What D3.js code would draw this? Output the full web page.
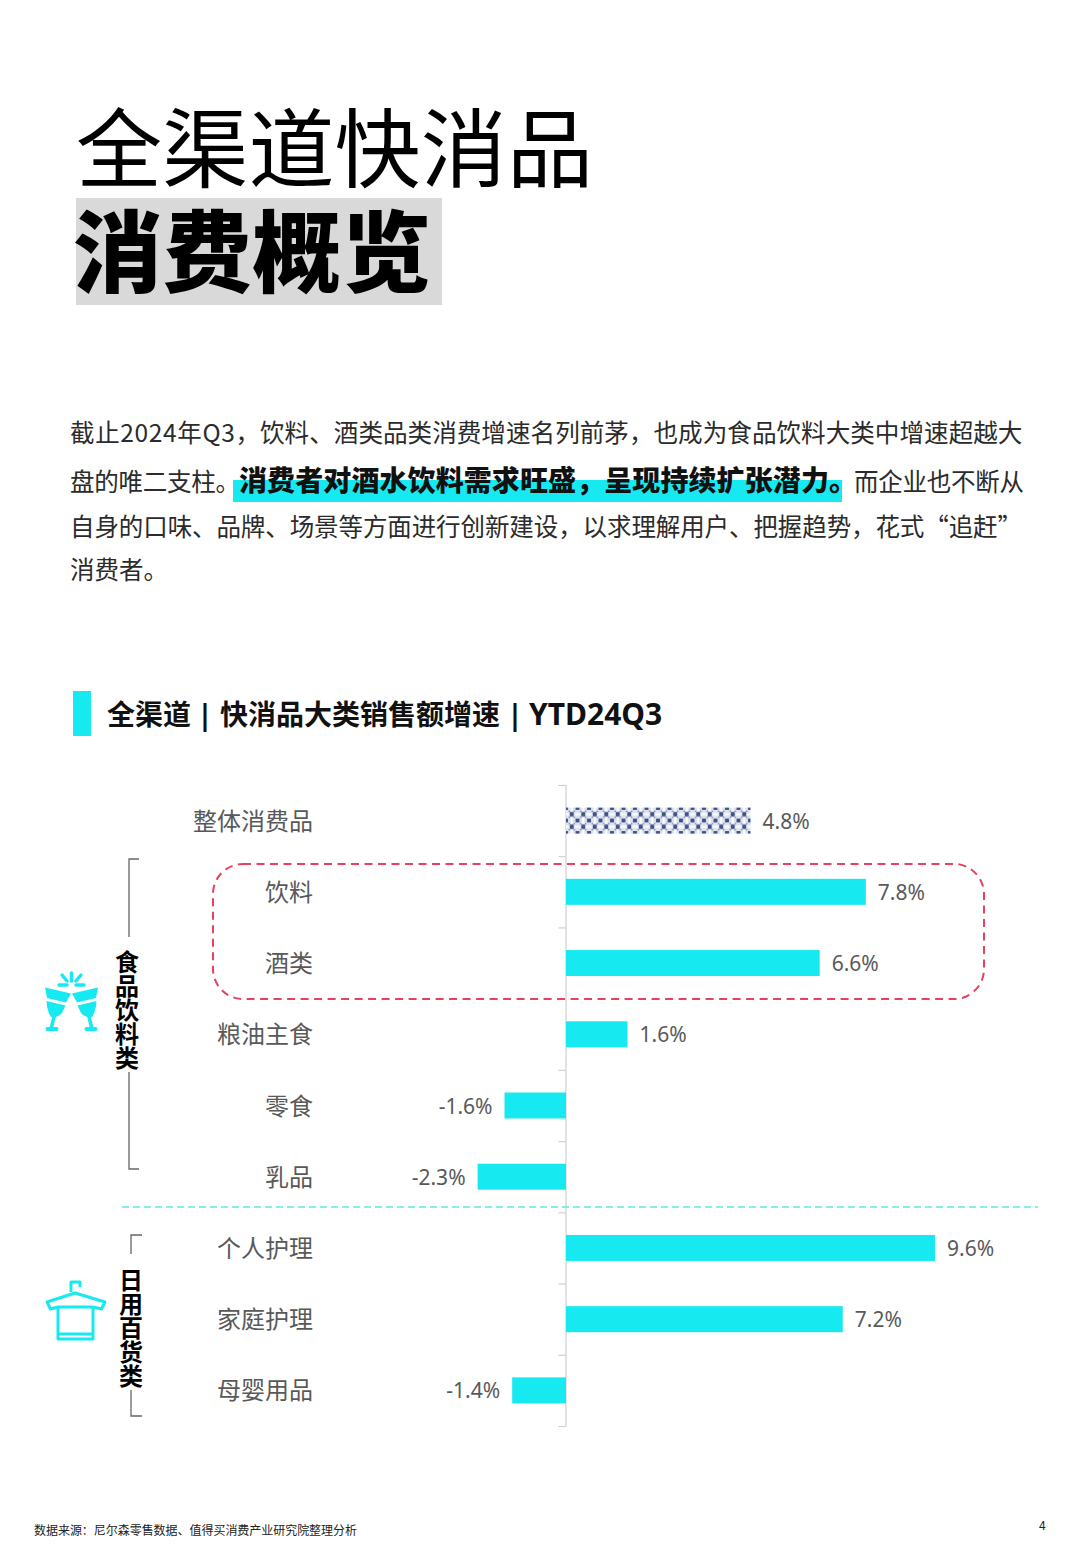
<!DOCTYPE html>
<html>
<head>
<meta charset="utf-8">
<script src="https://cdn.jsdelivr.net/npm/d3@7"></script>
<style>
	html,body { margin:0; padding:0; background:#fff; }
	svg { display:block; }
	text { font-family:"Noto Sans CJK SC","Noto Sans",sans-serif; }
</style>
</head>
<body>
<div id="chart"></div>
<script>
//--- data ---------------------------------------------------------------------

var categories	= ['整体消费品','饮料','酒类','粮油主食','零食','乳品','个人护理','家庭护理','母婴用品'];
var growth		= [4.8,7.8,6.6,1.6,-1.6,-2.3,9.6,7.2,-1.4];
var titleLine1	= '全渠道快消品';
var titleLine2	= '消费概览';
var heading		= ['全渠道','快消品大类销售额增速','YTD24Q3'];
var groupFood	= '食品饮料类';
var groupDaily	= '日用百货类';
var source		= '数据来源：尼尔森零售数据、值得买消费产业研究院整理分析';
var pageNo		= '4';

var para1a = '截止2024年Q3，';
var para1b = '饮料、酒类品类消费增速名列前茅，也成为食品饮料大类中增速超越大';
var para2a = '盘的唯二支柱。';
var para2b = '消费者对酒水饮料需求旺盛，呈现持续扩张潜力。';
var para2c = '而企业也不断从';
var para3  = '自身的口味、品牌、场景等方面进行创新建设，以求理解用户、把握趋势，花式“追赶”';
var para4  = '消费者。';

//--- page ---------------------------------------------------------------------

var CYAN = '#17e9f0', GREY = '#595959', BODY = '#2b2b2b';
var svg = d3.select('#chart').append('svg').attr('width',1080).attr('height',1560);

// text helper, fits to a measured width if given
function txt(x,y,s,size,opts) {
	opts = opts || {};
	var t = svg.append('text').attr('x',x).attr('y',y).text(s)
		.attr('font-size',size)
		.attr('font-weight',opts.weight||400)
		.attr('fill',opts.fill||'#000')
		.attr('text-anchor',opts.anchor||'start');
	if (opts.len) t.attr('textLength',opts.len).attr('lengthAdjust','spacing');
	if (opts.font) t.style('font-family',opts.font);
	return t;
}

// title
svg.append('rect').attr('x',76).attr('y',198).attr('width',366).attr('height',107).attr('fill','#d9d9d9');
txt(76,181,titleLine1,86,{len:517});
txt(73,285,titleLine2,89,{weight:900,len:358});

// paragraph
svg.append('rect').attr('x',233).attr('y',480).attr('width',609).attr('height',22).attr('fill',CYAN);
txt(70,442,para1a,24.5,{fill:BODY,len:190});
txt(260,442,para1b,24.6,{fill:BODY});
txt(70,491,para2a,24.5,{fill:BODY,len:170});
txt(239,491,para2b,28,{weight:900,fill:'#111',len:618});
txt(854,491,para2c,24.5,{fill:BODY,len:170});
txt(70,536,para3,24.5,{fill:BODY,len:952});
txt(70,579,para4,24.5,{fill:BODY});

// chart heading
svg.append('rect').attr('x',73).attr('y',691).attr('width',18).attr('height',45).attr('fill',CYAN);
txt(107,725,heading[0],28,{weight:700,fill:'#111'});
txt(205,725,'|',28,{weight:700,fill:'#111',anchor:'middle',font:'"Noto Sans",sans-serif'});
txt(220,725,heading[1],28,{weight:700,fill:'#111'});
txt(515,725,'|',28,{weight:700,fill:'#111',anchor:'middle',font:'"Noto Sans",sans-serif'});
txt(529,725,heading[2],30,{weight:700,fill:'#111',font:'"Noto Sans",sans-serif'});

//--- chart --------------------------------------------------------------------

var x = d3.scaleLinear().domain([0,9.6]).range([566,935]);
var y = d3.scaleBand().domain(categories).range([785,1426]);

var pat = svg.append('defs').append('pattern').attr('id','weave').attr('patternUnits','userSpaceOnUse')
	.attr('x',566).attr('y',808).attr('width',11.5).attr('height',12.5);
pat.append('rect').attr('width',11.5).attr('height',12.5).attr('fill','#dfe3ee');
pat.append('path').attr('d','M3.8,4.2H7.7V8.3H3.8ZM0,0H2V2H0ZM9.5,0H11.5V2H9.5ZM0,10.5H2V12.5H0ZM9.5,10.5H11.5V12.5H9.5Z').attr('fill','#3f5288');
pat.append('path').attr('d','M4.8,0H6.7V3H4.8ZM4.8,9.5H6.7V12.5H4.8ZM0,5.2H2.6V7.3H0ZM8.9,5.2H11.5V7.3H8.9Z').attr('fill','#fff');
pat.append('path').attr('d','M2.6,2.6H3.8V3.8H2.6ZM7.7,2.6H8.9V3.8H7.7ZM2.6,8.7H3.8V9.9H2.6ZM7.7,8.7H8.9V9.9H7.7Z').attr('fill','#5e6f9f');

// axis: ticks sit on band edges
var edges = y.domain().map(function(c) { return y(c); }).concat([y.range()[1]]);
var axis = d3.axisLeft(d3.scaleLinear().domain(y.range()).range(y.range()))
	.tickValues(edges).tickSize(7).tickFormat('');
svg.append('g').attr('transform','translate(565.5,0)').call(axis)
	.call(function(g) { g.selectAll('path,line').attr('stroke','#d0d0d0').attr('stroke-width',1.2); });

var rows = svg.append('g').selectAll('g').data(categories).join('g');
var barH = 26;

rows.append('rect')
	.attr('x',function(c,i) { return Math.min(x(0),x(growth[i])); })
	.attr('y',function(c) { return y(c)+y.bandwidth()/2-barH/2; })
	.attr('width',function(c,i) { return Math.abs(x(growth[i])-x(0)); })
	.attr('height',barH)
	.attr('fill',function(c,i) { return i==0 ? 'url(#weave)' : CYAN; });

rows.append('text')
	.attr('x',313)
	.attr('y',function(c) { return y(c)+y.bandwidth()/2+9; })
	.attr('text-anchor','end').attr('font-size',24).attr('fill',GREY)
	.text(function(c) { return c; });

rows.append('text')
	.attr('x',function(c,i) { return x(growth[i])+(growth[i]<0 ? -12 : 12); })
	.attr('y',function(c) { return y(c)+y.bandwidth()/2+8; })
	.attr('text-anchor',function(c,i) { return growth[i]<0 ? 'end' : 'start'; })
	.attr('font-size',21).attr('fill',GREY)
	.style('font-family','"Noto Sans",sans-serif')
	.text(function(c,i) { return growth[i].toFixed(1)+'%'; });

// highlight box and divider
svg.append('rect').attr('x',213).attr('y',864).attr('width',771).attr('height',135).attr('rx',30)
	.attr('fill','none').attr('stroke','#e8415f').attr('stroke-width',2).attr('stroke-dasharray','8,5.5');
svg.append('line').attr('x1',122).attr('x2',1038).attr('y1',1207).attr('y2',1207)
	.attr('stroke','#5fe8e8').attr('stroke-width',1.5).attr('stroke-dasharray','7,4');

//--- group brackets -----------------------------------------------------------

var line = d3.line();
function bracket(pts) {
	svg.append('path').attr('d',line(pts)).attr('fill','none').attr('stroke','#666').attr('stroke-width',1.3);
}
function vtext(cx,top,s) {
	txt(cx,top,s,24,{weight:700}).style('writing-mode','vertical-rl').style('glyph-orientation-vertical','0');
}
bracket([[139,859],[129,859],[129,937]]);
bracket([[129,1072],[129,1169],[139,1169]]);
vtext(127,950,groupFood);
bracket([[142,1235],[131,1235],[131,1254]]);
bracket([[131,1390],[131,1416],[142,1416]]);
vtext(131,1268,groupDaily);

//--- icons --------------------------------------------------------------------

var cheers = svg.append('g');
function glass(g) {
	g.append('path').attr('d','M45,987.5L71,993.5L66,1002.5L47,998Z').attr('fill',CYAN);
	g.append('path').attr('d','M46.5,1001L65.5,1005.5L62,1013Q58,1018 51,1017Q47,1011 46.5,1001Z').attr('fill',CYAN);
	g.append('path').attr('d','M54.5,1015L51,1029').attr('stroke',CYAN).attr('stroke-width',3.5);
	g.append('path').attr('d','M47.5,1029H56.5').attr('stroke',CYAN).attr('stroke-width',4).attr('stroke-linecap','round');
}
glass(cheers.append('g'));
glass(cheers.append('g').attr('transform','translate(143,0) scale(-1,1)'));
['M71.5,973V981','M62,975L67,981','M81,975L76,981','M59,985H67','M76,985H84'].forEach(function(d) {
	cheers.append('path').attr('d',d).attr('stroke',CYAN).attr('stroke-width',3.5).attr('stroke-linecap','round');
});

var hanger = svg.append('g').attr('fill','none').attr('stroke',CYAN).attr('stroke-width',3).attr('stroke-linejoin','round');
hanger.append('path').attr('d','M71,1292V1282H80V1287');
hanger.append('path').attr('d','M47,1302L75,1293L105,1302L101.5,1309L93,1307H58L50.5,1309Z');
hanger.append('path').attr('d','M58,1307V1339H93V1307');
hanger.append('path').attr('d','M58,1334H93');

//--- footer -------------------------------------------------------------------

txt(34,1535,source,12,{fill:'#222',len:323});
txt(1039,1530,pageNo,12,{fill:'#222'});
</script>
</body>
</html>
